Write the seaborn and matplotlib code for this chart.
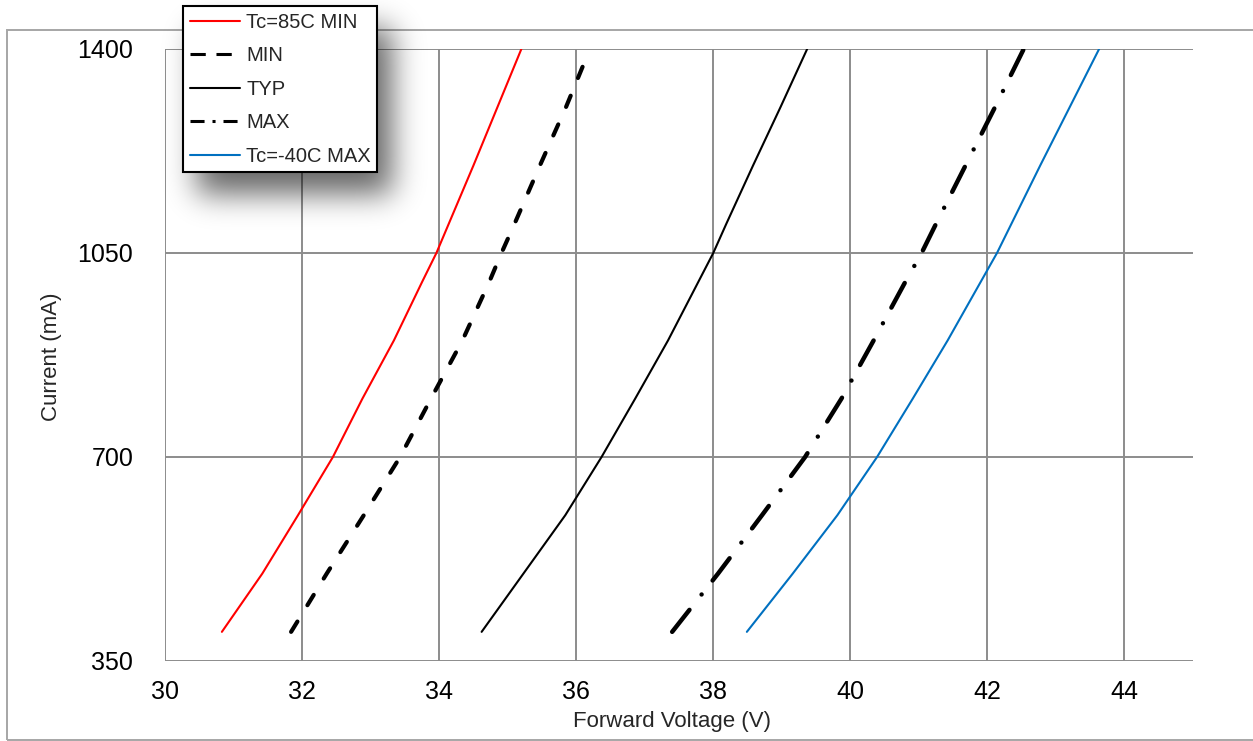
import numpy as np
import pandas as pd
import matplotlib
matplotlib.use("Agg")
import matplotlib.pyplot as plt
from matplotlib.lines import Line2D
from matplotlib.patches import Rectangle
import seaborn as sns

# current points (mA) shared by the curves
current = [400, 500, 600, 700, 800, 900, 1000, 1050, 1100, 1200, 1300, 1400]
current_min = [400, 500, 600, 700, 800, 900, 1000, 1050, 1100, 1200, 1300, 1380]

# forward voltage (V)
v_hot_min = [30.83, 31.42, 31.94, 32.45, 32.88, 33.34, 33.75, 33.96, 34.14, 34.50, 34.85, 35.20]
v_min = [31.84, 32.36, 32.90, 33.43, 33.88, 34.34, 34.73, 34.91, 35.10, 35.47, 35.85, 36.13]
v_typ = [34.62, 35.23, 35.84, 36.37, 36.86, 37.34, 37.78, 38.00, 38.19, 38.58, 38.98, 39.37]
v_max = [37.40, 38.07, 38.71, 39.34, 39.87, 40.34, 40.80, 41.04, 41.25, 41.68, 42.11, 42.53]
v_cold_max = [38.49, 39.16, 39.81, 40.39, 40.91, 41.42, 41.90, 42.14, 42.35, 42.77, 43.20, 43.63]

labels = ["Tc=85C MIN", "MIN", "TYP", "MAX", "Tc=-40C MAX"]
x_ticks = [30, 32, 34, 36, 38, 40, 42, 44]
y_ticks = [350, 700, 1050, 1400]

sns.set_style("white")
plt.rcParams['font.family'] = ['Liberation Sans', 'DejaVu Sans']

W, H = 1253, 741
fig = plt.figure(figsize=(W / 100, H / 100), dpi=100)
ax = fig.add_axes([165 / W, 1 - 661 / H, (1193 - 165) / W, (661 - 49) / H])

grey = '#8c8c8c'
styles = [
    dict(color='#ff0000', lw=1.5, ls='-'),
    dict(color='black', lw=3.0, ls=(0, (2.9, 4.6)), dash_capstyle='round'),
    dict(color='black', lw=1.5, ls='-'),
    dict(color='black', lw=3.2, ls=(0, (6.3, 4.4, 0.01, 4.0)), dash_capstyle='round'),
    dict(color='#0070c0', lw=1.5, ls='-'),
]
series = [(v_hot_min, current), (v_min, current_min), (v_typ, current),
          (v_max, current), (v_cold_max, current)]

for (v, c), st in zip(series, styles):
    df = pd.DataFrame({'V': v, 'I': c})
    sns.lineplot(data=df, x='V', y='I', ax=ax, sort=False, estimator=None, **st)

ax.set_xlim(30, 45)
ax.set_ylim(350, 1400)
ax.set_xticks(x_ticks)
ax.set_yticks(y_ticks)
ax.set_xlabel('')
ax.set_ylabel('')
ax.grid(True, color=grey, lw=1.4)
for s in ax.spines.values():
    s.set_visible(False)
ax.tick_params(axis='both', length=5.8, width=1.4, color=grey, labelsize=18,
               labelcolor='black')
ax.tick_params(axis='y', pad=17)
ax.tick_params(axis='x', pad=8)

fig.text(52 / W, 1 - 357 / H, 'Current (mA)', rotation=90, ha='center', va='center', fontsize=16)
fig.text(672 / W, 1 - 722 / H, 'Forward Voltage (V)', ha='center', va='center', fontsize=16)

# outer frame
fig.add_artist(Rectangle((7 / W, 1 / H), 1.2, (740 - 30) / H, transform=fig.transFigure,
                         fill=False, edgecolor='#a6a6a6', lw=1.4))

# blurred legend shadow
bx0, by0, bx1, by1 = 183, 6, 378, 172
dx, dy, sig = 14, 22, 15
m = 3 * sig
mask = np.zeros((by1 - by0 + 2 * m, bx1 - bx0 + 2 * m))
mask[m:m + by1 - by0, m:m + bx1 - bx0] = 1
k = np.exp(-0.5 * (np.arange(-m, m + 1) / sig) ** 2)
k /= k.sum()
blur = np.apply_along_axis(lambda r: np.convolve(r, k, mode='same'), 0, mask)
blur = np.apply_along_axis(lambda r: np.convolve(r, k, mode='same'), 1, blur)
rgba = np.zeros(blur.shape + (4,))
rgba[..., 3] = blur * 0.6
fig.figimage(rgba, xo=bx0 + dx - m, yo=H - (by1 + dy + m), origin='upper', zorder=1)

# legend keys
leg_styles = [
    dict(color='#ff0000', lw=1.5, ls='-'),
    dict(color='black', lw=2.2, ls=(0, (5, 3.5))),
    dict(color='black', lw=1.5, ls='-'),
    dict(color='black', lw=2.2, ls=(0, (4.6, 2.6, 1, 2.6))),
    dict(color='#0070c0', lw=1.5, ls='-'),
]
handles = [Line2D([], [], **st) for st in leg_styles]
leg = fig.legend(handles, labels, loc='upper left', bbox_to_anchor=(bx0 / W, 1 - by0 / H),
                 bbox_transform=fig.transFigure, borderaxespad=0, fancybox=False,
                 framealpha=1, edgecolor='black', fontsize=14.5, handlelength=2.5,
                 handletextpad=0.3, labelspacing=0.72, borderpad=0.33)
leg.get_frame().set_linewidth(1.5)
leg.set_zorder(5)

fig.savefig('out.png', dpi=100)
